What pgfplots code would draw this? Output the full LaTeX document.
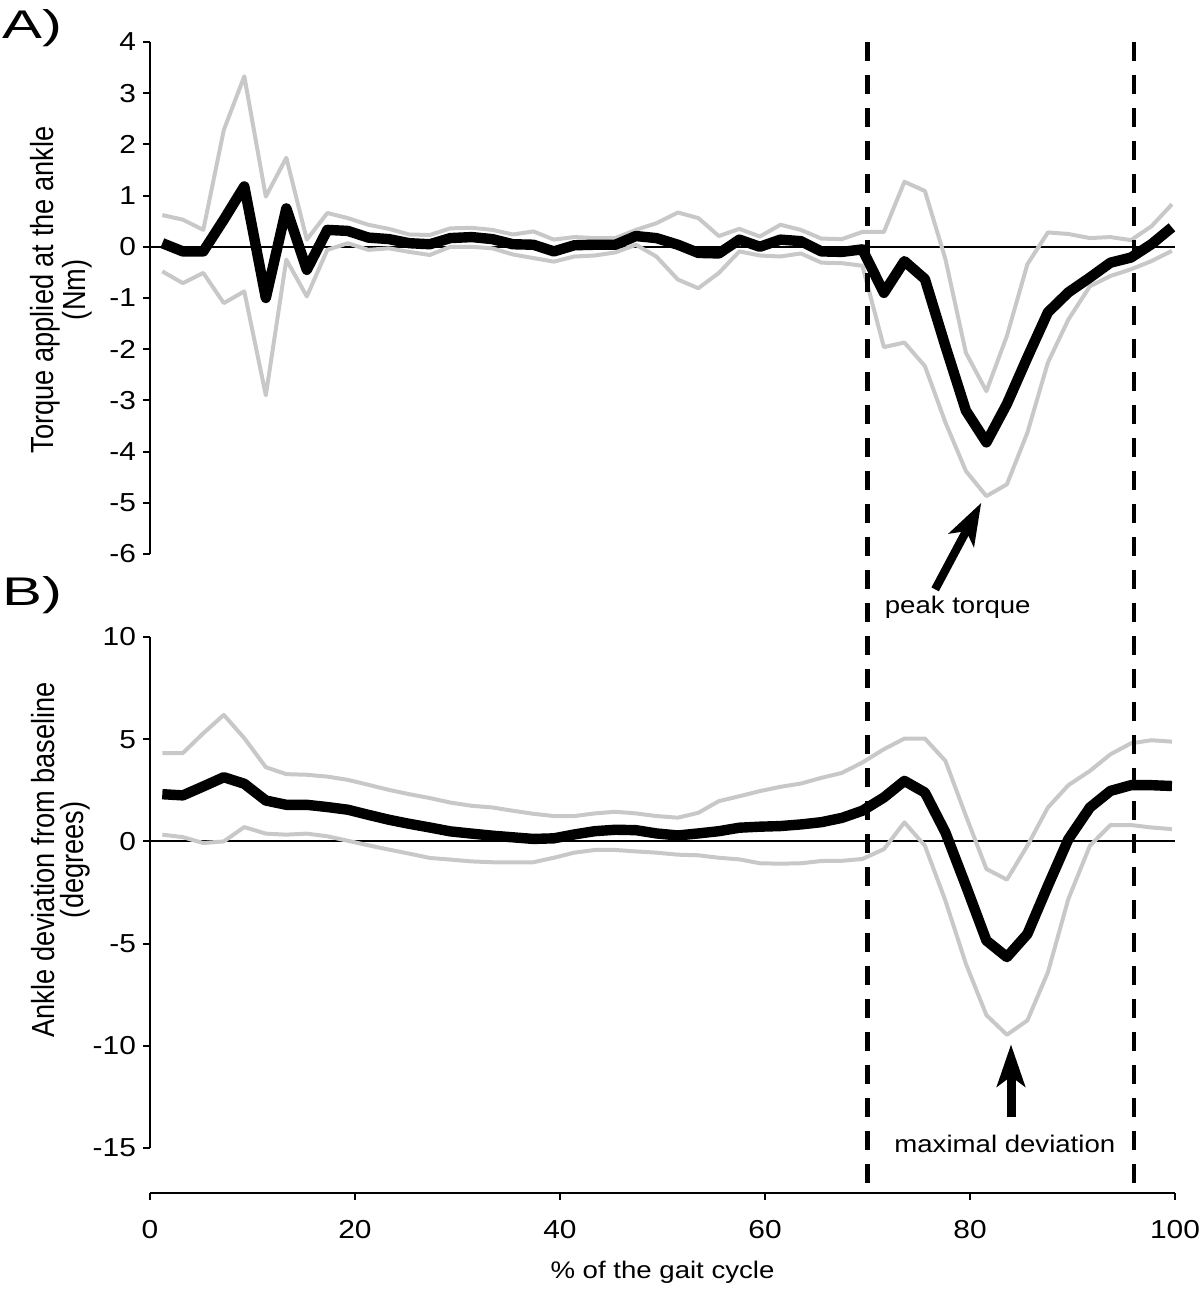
\documentclass[border=0pt]{standalone}
\usepackage{fontspec}
\setmainfont{Liberation Sans}[FakeStretch=1.15]
\newfontfamily\vfont{Liberation Sans}[FakeStretch=0.85]
\usepackage{pgfplots}
\usepackage{pgfplotstable}
\pgfplotsset{compat=1.18}
\usetikzlibrary{arrows.meta}
\definecolor{bandgray}{HTML}{C8C8C8}

\pgfplotstableread{
x m u l
1.2 0.07 0.62 -0.48
3.2 -0.09 0.53 -0.71
5.2 -0.09 0.33 -0.51
7.2 0.53 2.28 -1.10
9.2 1.18 3.33 -0.87
11.3 -1.00 0.98 -2.90
13.3 0.75 1.74 -0.25
15.3 -0.45 0.14 -0.97
17.3 0.33 0.66 -0.06
19.3 0.31 0.56 0.07
21.3 0.18 0.43 -0.06
23.3 0.15 0.35 -0.03
25.3 0.07 0.24 -0.10
27.3 0.05 0.23 -0.16
29.3 0.17 0.36 0.00
31.4 0.19 0.37 0.00
33.4 0.15 0.33 -0.03
35.4 0.05 0.24 -0.15
37.4 0.04 0.30 -0.22
39.4 -0.09 0.14 -0.29
41.4 0.03 0.19 -0.19
43.4 0.04 0.17 -0.17
45.4 0.04 0.17 -0.11
47.4 0.21 0.33 0.04
49.4 0.17 0.46 -0.19
51.5 0.04 0.67 -0.64
53.5 -0.12 0.56 -0.81
55.5 -0.13 0.21 -0.51
57.5 0.14 0.35 -0.09
59.5 0.00 0.20 -0.17
61.5 0.14 0.43 -0.19
63.5 0.11 0.33 -0.13
65.5 -0.09 0.16 -0.31
67.5 -0.10 0.15 -0.32
69.5 -0.05 0.29 -0.37
71.6 -0.90 0.29 -1.96
73.6 -0.28 1.27 -1.87
75.6 -0.63 1.09 -2.33
77.6 -1.94 -0.24 -3.43
79.6 -3.20 -2.07 -4.38
81.6 -3.82 -2.82 -4.87
83.6 -3.07 -1.74 -4.64
85.6 -2.16 -0.34 -3.63
87.6 -1.28 0.28 -2.26
89.6 -0.89 0.25 -1.42
91.7 -0.60 0.17 -0.77
93.7 -0.31 0.19 -0.57
95.7 -0.21 0.13 -0.44
97.7 0.05 0.40 -0.28
99.7 0.38 0.83 -0.08
}\dataA

\pgfplotstableread{
x m u l
1.2 2.31 4.32 0.33
3.2 2.25 4.32 0.21
5.2 2.69 5.29 -0.08
7.2 3.14 6.19 0.00
9.2 2.82 5.05 0.70
11.3 2.00 3.63 0.38
13.3 1.79 3.29 0.33
15.3 1.79 3.26 0.38
17.3 1.68 3.17 0.25
19.3 1.55 3.01 0.03
21.3 1.30 2.77 -0.19
23.3 1.06 2.52 -0.40
25.3 0.86 2.31 -0.60
27.3 0.68 2.12 -0.81
29.3 0.49 1.90 -0.89
31.4 0.38 1.74 -0.98
33.4 0.28 1.66 -1.02
35.4 0.20 1.50 -1.03
37.4 0.12 1.35 -1.02
39.4 0.15 1.24 -0.80
41.4 0.34 1.24 -0.55
43.4 0.50 1.37 -0.42
45.4 0.57 1.45 -0.42
47.4 0.55 1.37 -0.49
49.4 0.39 1.24 -0.55
51.5 0.29 1.16 -0.65
53.5 0.39 1.40 -0.68
55.5 0.50 1.97 -0.80
57.5 0.67 2.21 -0.88
59.5 0.72 2.46 -1.07
61.5 0.75 2.67 -1.09
63.5 0.83 2.83 -1.07
65.5 0.94 3.11 -0.96
67.5 1.15 3.35 -0.95
69.5 1.50 3.86 -0.86
71.6 2.15 4.51 -0.38
73.6 2.96 5.03 0.93
75.6 2.39 5.03 -0.21
77.6 0.44 3.94 -2.90
79.6 -2.17 1.25 -5.99
81.6 -4.85 -1.35 -8.50
83.6 -5.66 -1.87 -9.46
85.6 -4.53 -0.21 -8.76
87.6 -2.17 1.66 -6.40
89.6 0.11 2.75 -2.81
91.7 1.66 3.45 -0.21
93.7 2.47 4.26 0.80
95.7 2.75 4.80 0.80
97.7 2.75 4.95 0.68
99.7 2.71 4.88 0.60
}\dataB

\begin{document}
\begin{tikzpicture}[x=1pt,y=1pt]
\useasboundingbox (0,0) rectangle (600,648);
\pgfplotsset{
  panel/.style={
    scale only axis, width=512.5pt, xmin=0, xmax=100, clip=false,
    axis x line=none, axis y line*=left,
    tick align=outside, major tick length=3.5pt,
    axis line style={line width=1pt}, every tick/.style={line width=1pt, black},
    /pgf/number format/assume math mode=true,
    ticklabel style={font=\fontsize{13}{15}\selectfont},
  },
  bandline/.style={bandgray, line width=2pt, line join=round},
  meanline/.style={black, line width=5.2pt, line join=round},
  zeroline/.style={black, line width=1pt},
}
% Panel A
\begin{axis}[panel, at={(75pt,371pt)}, anchor=south west, height=256pt,
  ymin=-6, ymax=4, ytick={-6,-5,...,4}]
\addplot[zeroline] coordinates {(0,0) (100,0)};
\addplot[bandline] table[x=x,y=u]{\dataA};
\addplot[bandline] table[x=x,y=l]{\dataA};
\addplot[meanline] table[x=x,y=m]{\dataA};
\draw[line width=4.2pt, -{Stealth[length=21pt,width=14pt,inset=5pt]}] (axis cs:76.6,-6.69) -- (axis cs:81.1,-5.0);
\node[font=\fontsize{12}{14}\selectfont] at (axis cs:78.8,-7.04) {peak torque};
\node[rotate=90, align=center, font=\vfont\fontsize{16}{14.5}\selectfont] at (axis description cs:-0.087,0.516) {Torque applied at the ankle\\(Nm)};
\end{axis}
\node[anchor=base west, font=\fontsize{20}{22}\selectfont, inner sep=0pt] at (1pt,628.5pt) {\scalebox{1.3}[1]{A)}};
% Panel B
\begin{axis}[panel, at={(75pt,74pt)}, anchor=south west, height=255.5pt,
  ymin=-15, ymax=10, ytick={-15,-10,...,10}]
\addplot[zeroline] coordinates {(0,0) (100,0)};
\addplot[bandline] table[x=x,y=u]{\dataB};
\addplot[bandline] table[x=x,y=l]{\dataB};
\addplot[meanline] table[x=x,y=m]{\dataB};
\draw[line width=4.5pt, -{Stealth[length=21pt,width=14pt,inset=5pt]}] (axis cs:84.0,-13.5) -- (axis cs:84.0,-9.93);
\node[font=\fontsize{12}{14}\selectfont] at (axis cs:83.4,-14.8) {maximal deviation};
\node[rotate=90, align=center, font=\vfont\fontsize{16}{14.5}\selectfont] at (axis description cs:-0.087,0.564) {Ankle deviation from baseline\\(degrees)};
\end{axis}
\node[anchor=base west, font=\fontsize{20}{22}\selectfont, inner sep=0pt] at (1pt,345pt) {\scalebox{1.3}[1]{B)}};
% X axis
\begin{axis}[scale only axis, width=512.5pt, height=10pt, at={(75pt,51.5pt)}, anchor=south west,
  xmin=0, xmax=100, ymin=0, ymax=1, clip=false,
  axis y line=none, axis x line*=bottom,
  xtick={0,20,...,100}, tick align=outside, major tick length=3.5pt,
  axis line style={line width=1pt}, every tick/.style={line width=1pt, black},
  /pgf/number format/assume math mode=true,
  ticklabel style={font=\fontsize{13}{15}\selectfont},
  xticklabel style={anchor=center, yshift=-15pt}]
\node[font=\fontsize{12}{14}\selectfont] at (axis cs:50,0) [yshift=-39.5pt] {\% of the gait cycle};
\draw[line width=2.3pt, dash pattern=on 9.5pt off 7pt] (axis cs:70,0) ++(0,575.5pt) -- (axis cs:70,0);
\draw[line width=2.3pt, dash pattern=on 9.5pt off 7pt] (axis cs:96,0) ++(0,575.5pt) -- (axis cs:96,0);
\end{axis}
\end{tikzpicture}
\end{document}
